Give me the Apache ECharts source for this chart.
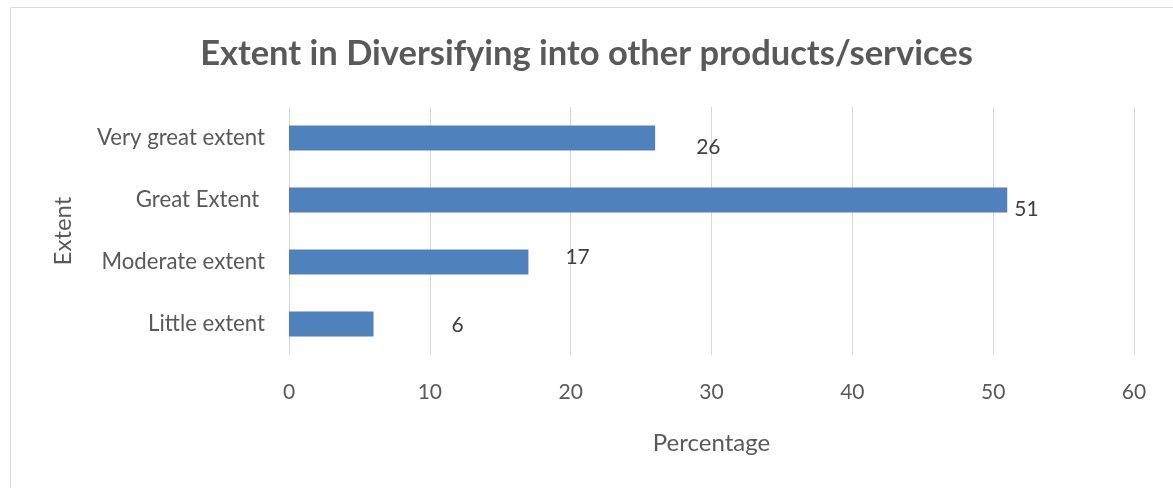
<!DOCTYPE html>
<html>
<head>
<meta charset="utf-8">
<script src="https://cdn.jsdelivr.net/npm/echarts@6/dist/echarts.min.js"></script>
<style>
html,body{margin:0;padding:0;background:#fff;}
#chart{width:1173px;height:488px;}
</style>
</head>
<body>
<div id="chart"></div>
<script>
const categories = ['Very great extent', 'Great Extent ', 'Moderate extent', 'Little extent'];
const values = [26, 51, 17, 6];
const xTicks = [0, 10, 20, 30, 40, 50, 60];

// label placement tweaks (style, not data)
const labelOffsets = [[41, 9], [7, 9], [37, -5], [78, 1]];

const FONT = 'Lato, "Open Sans", sans-serif';
const chart = echarts.init(document.getElementById('chart'));
chart.setOption({
  animation: false,
  backgroundColor: '#ffffff',
  graphic: [{
    type: 'rect',
    shape: { x: 10.5, y: 7.5, width: 1300, height: 600 },
    style: { fill: 'none', stroke: '#d9d9d9', lineWidth: 1 },
    silent: true
  }],
  title: {
    text: 'Extent in Diversifying into other products/services',
    left: 'center',
    top: 31,
    textStyle: { fontFamily: FONT, fontSize: 34.5, fontWeight: 'bold', color: '#595959' }
  },
  grid: { left: 289, right: 39, top: 107, bottom: 133, containLabel: false },
  xAxis: {
    type: 'value',
    min: xTicks[0],
    max: xTicks[xTicks.length - 1],
    interval: 10,
    name: 'Percentage',
    nameLocation: 'middle',
    nameGap: 76,
    nameTextStyle: { fontFamily: FONT, fontSize: 24, color: '#595959' },
    axisLine: { show: false },
    axisTick: { show: false },
    axisLabel: { fontFamily: FONT, fontSize: 21, color: '#595959', margin: 27 },
    splitLine: { show: true, lineStyle: { color: '#d9d9d9', width: 1 } }
  },
  yAxis: {
    type: 'category',
    data: categories,
    inverse: true,
    name: 'Extent',
    nameLocation: 'middle',
    nameGap: 214,
    nameRotate: 90,
    nameTextStyle: { fontFamily: FONT, fontSize: 24, color: '#595959' },
    axisLine: { show: false },
    axisTick: { show: false },
    axisLabel: { fontFamily: FONT, fontSize: 22.2, color: '#595959', margin: 24 },
    splitLine: { show: false }
  },
  series: [{
    type: 'bar',
    barWidth: 25,
    itemStyle: { color: '#4f81bd' },
    data: values.map((v, i) => ({
      value: v,
      label: { offset: labelOffsets[i] }
    })),
    label: {
      show: true,
      position: 'right',
      distance: 0,
      fontFamily: FONT,
      fontSize: 21,
      color: '#404040'
    }
  }]
});
</script>
</body>
</html>
